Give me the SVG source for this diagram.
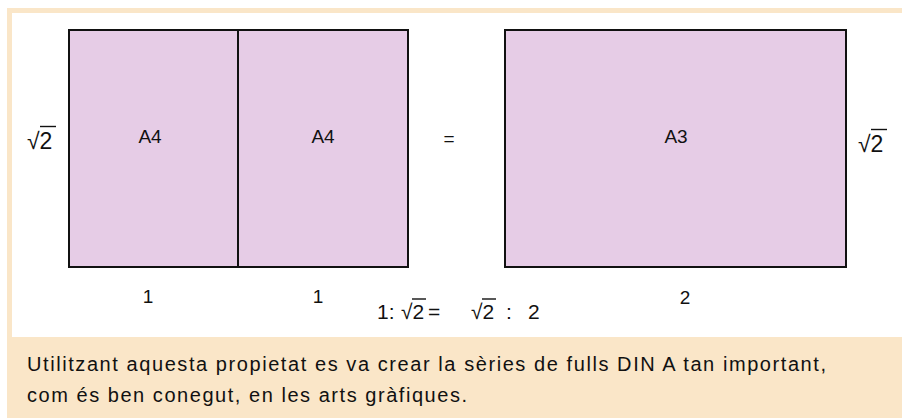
<svg xmlns="http://www.w3.org/2000/svg" width="902" height="418" viewBox="0 0 902 418">
<style>
.t{font-family:"Liberation Sans",Arial,sans-serif;fill:#111;}
.lab{font-size:19px;text-anchor:middle;}
.big{font-size:23px;}
.eq{font-size:21px;}
.sheet{fill:#E6CCE6;stroke:#111;stroke-width:2;}
.bar{stroke:#111;stroke-width:1.4;fill:none;}
.body{font-size:20px;}
</style>
<rect x="0" y="0" width="902" height="418" fill="#ffffff"/>
<rect x="7" y="8" width="895" height="410" fill="#FAE6C8"/>
<rect x="12" y="13" width="890" height="324" fill="#ffffff"/>
<g id="sheet-a4-left">
<rect class="sheet" x="69" y="30" width="169" height="237"/>
<text class="t lab" x="150" y="143">A4</text>
</g>
<g id="sheet-a4-right">
<rect class="sheet" x="238" y="30" width="170" height="237"/>
<text class="t lab" x="323" y="143">A4</text>
</g>
<g id="sheet-a3">
<rect class="sheet" x="505" y="30" width="341" height="237"/>
<text class="t lab" x="676" y="143">A3</text>
</g>
<g id="labels">
<text class="t big" x="27" y="149">√2</text>
<line class="bar" x1="40" y1="126.5" x2="56" y2="126.5"/>
<text class="t lab" x="449" y="145">=</text>
<text class="t big" x="858" y="152">√2</text>
<line class="bar" x1="871" y1="129.5" x2="887" y2="129.5"/>
<text class="t lab" x="148" y="303">1</text>
<text class="t lab" x="318" y="303">1</text>
<text class="t lab" x="685" y="304">2</text>
</g>
<g id="equation">
<text class="t eq" x="377" y="319">1:</text>
<text class="t eq" x="401" y="319">√2</text>
<line class="bar" x1="412" y1="299" x2="426" y2="299"/>
<text class="t eq" x="428" y="319">=</text>
<text class="t eq" x="471" y="319">√2</text>
<line class="bar" x1="482" y1="299" x2="496" y2="299"/>
<text class="t eq" x="506" y="319">:</text>
<text class="t eq" x="528" y="319">2</text>
</g>
<g id="caption">
<text class="t body" x="27" y="371" textLength="799" lengthAdjust="spacing">Utilitzant aquesta propietat es va crear la sèries de fulls DIN A tan important,</text>
<text class="t body" x="27" y="402" textLength="440" lengthAdjust="spacing">com és ben conegut, en les arts gràfiques.</text>
</g>
</svg>
